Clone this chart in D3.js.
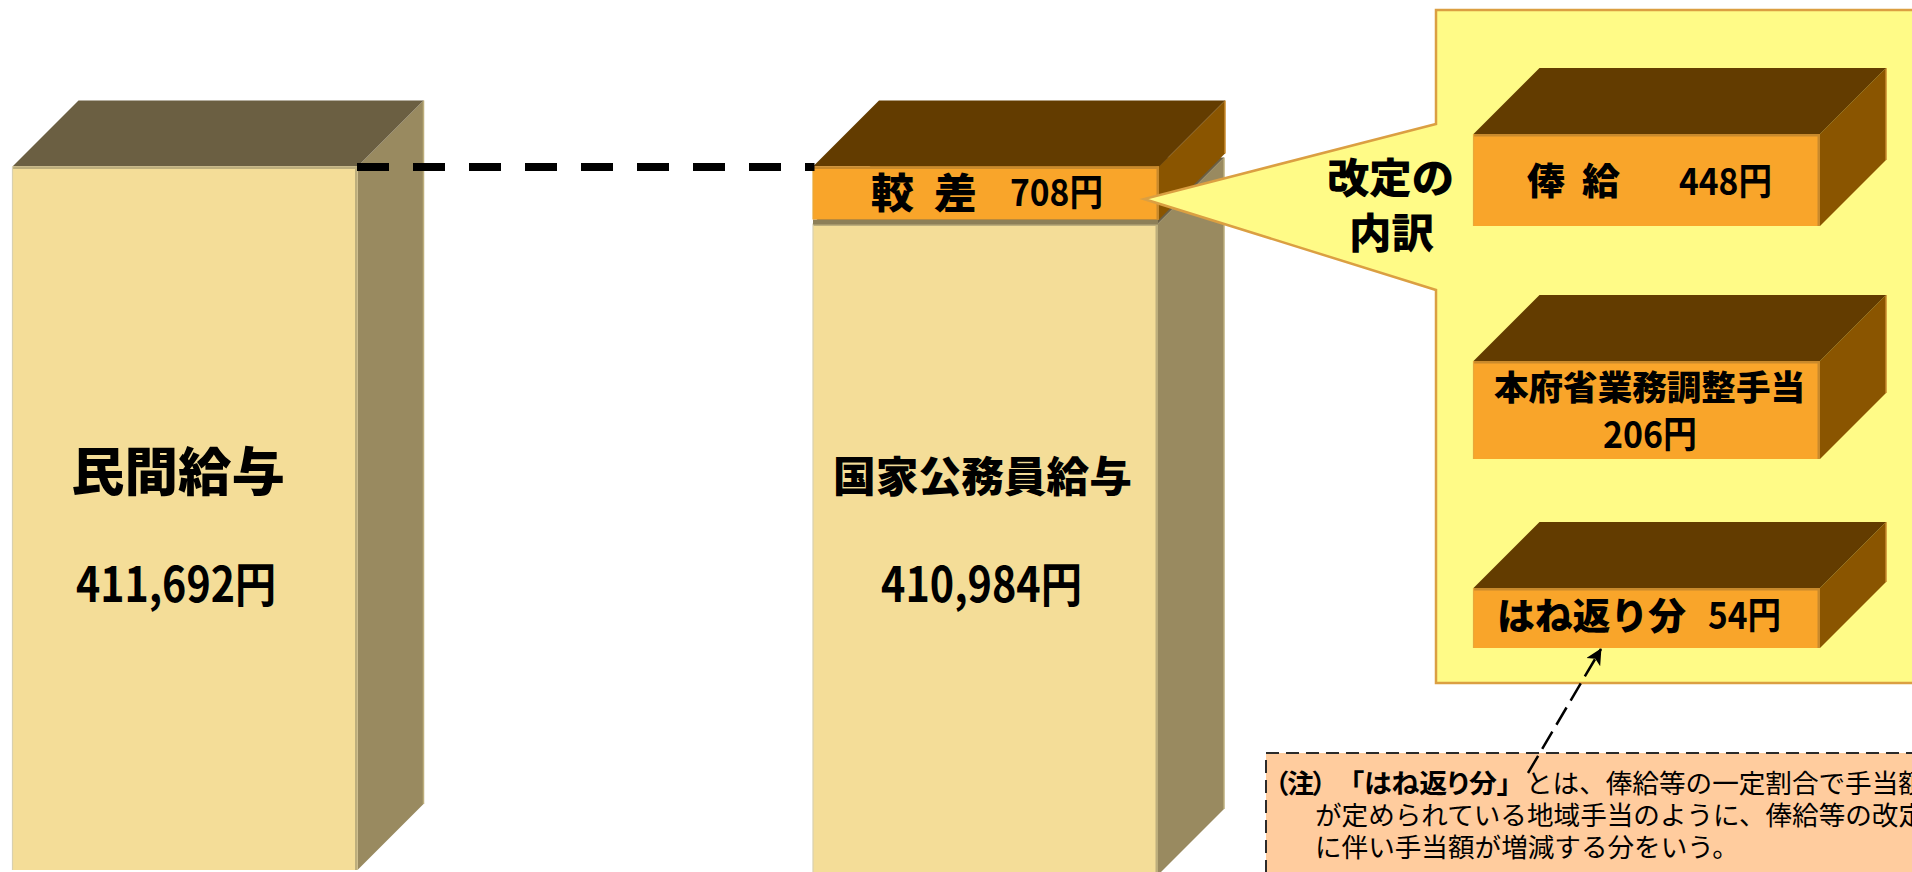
<!DOCTYPE html>
<html lang="ja">
<head>
<meta charset="utf-8">
<style>
html,body{margin:0;padding:0;background:#fff;overflow:hidden;width:1912px;height:872px}
svg{display:block}
text{font-family:"Noto Sans CJK JP","Noto Sans",sans-serif;fill:#000}
</style>
<script src="https://cdn.jsdelivr.net/npm/d3@7"></script>
</head>
<body>
<script>
// ---- data ----
const wageCategories = ["民間給与", "国家公務員給与"];
const wageValues = [411692, 410984];
const gapLabel = "較差";
const gapValue = 708;
const breakdownCategories = ["俸給", "本府省業務調整手当", "はね返り分"];
const breakdownValues = [448, 206, 54];
const calloutLines = ["改定の", "内訳"];
const noteMark = "（注）";
const noteTerm = "「はね返り分」";
const noteLines = ["とは、俸給等の一定割合で手当額", "が定められている地域手当のように、俸給等の改定", "に伴い手当額が増減する分をいう。"];

// ---- palette ----
const tan = {front:"#F4DD98", side:"#998A60", top:"#6B5F42", edge:"#BDAE7C", left:"#D8D0B0"};
const orange = {front:"#F9A52A", side:"#8A5500", top:"#633C00", edge:"#C98A2C", left:"#E8A83A"};

const W = 1912, H = 872, DEPTH = 66;
const svg = d3.select("body").append("svg").attr("width", W).attr("height", H);
const defs = svg.append("defs");
defs.append("marker").attr("id","head").attr("viewBox","0 0 10 10").attr("refX",9.5).attr("refY",5)
  .attr("markerUnits","userSpaceOnUse").attr("markerWidth",18).attr("markerHeight",16).attr("orient","auto")
  .append("path").attr("d","M0,0L10,5L0,10L2.5,5Z").attr("fill","#000");

// scales
const fmt = d3.format(",");
const xBar = d3.scalePoint().domain(wageCategories).range([12.5, 813]);
const barWidth = 345;
const y = d3.scaleLinear().domain([410984, 411692]).range([219.5, 166.5]);
const barBottom = d3.scaleOrdinal().domain(wageCategories).range([870, 875]);
const barTopOffset = d3.scaleOrdinal().domain(wageCategories).range([0, 4]);
const boxTop = d3.scaleOrdinal().domain(breakdownCategories).range([134, 361, 588]);
const boxBottom = d3.scaleOrdinal().domain(breakdownCategories).range([226, 459, 648]);
const boxX = 1473.5, boxW = 346.5;

const poly = pts => d3.line()(pts) + "Z";
function cuboid(g, x, top, w, bottom, c) {
  g.append("path").attr("d", poly([[x+w,top],[x+w+DEPTH,top-DEPTH],[x+w+DEPTH,bottom-DEPTH],[x+w,bottom]]))
    .attr("fill", c.side);
  g.append("path").attr("d", d3.line()([[x+w+DEPTH,top-DEPTH],[x+w+DEPTH,bottom-DEPTH]]))
    .attr("fill","none").attr("stroke",c.edge).attr("stroke-width",1.5);
  g.append("path").attr("d", poly([[x,top],[x+DEPTH,top-DEPTH],[x+w+DEPTH,top-DEPTH],[x+w,top]]))
    .attr("fill", c.top);
  g.append("rect").attr("x",x).attr("y",top).attr("width",w).attr("height",bottom-top).attr("fill",c.front);
  g.append("rect").attr("x",x).attr("y",top).attr("width",w).attr("height",2.5).attr("fill",c.edge);
  g.append("rect").attr("x",x+w-2.5).attr("y",top).attr("width",2.5).attr("height",bottom-top).attr("fill",c.edge);
  g.append("path").attr("d", d3.line()([[x,bottom],[x,top]]))
    .attr("fill","none").attr("stroke",c.left).attr("stroke-width",1.2);
}
function label(txt, x0, x1, cy, size, weight) {
  return svg.append("text").attr("x",x0).attr("y",cy).attr("dy","0.36em")
    .attr("font-size",size).attr("font-weight",weight)
    .attr("textLength",x1-x0).attr("lengthAdjust","spacingAndGlyphs").text(txt);
}

// main bars
const gBars = svg.append("g");
wageCategories.forEach((name,i) => {
  const top = y(wageValues[i]) + barTopOffset(name);
  cuboid(gBars, xBar(name), top, barWidth, barBottom(name), tan);
});
// gap block stacked over the government bar
const govName = wageCategories[1];
const topGap = y(wageValues[1] + gapValue), botGap = y(wageValues[1]);
gBars.append("rect").attr("x",xBar(govName)).attr("y",botGap).attr("width",barWidth).attr("height",5).attr("fill","#8d7f58");
cuboid(gBars, xBar(govName), topGap, barWidth+1, botGap, orange);

// reference dashed line
svg.append("line").attr("x1",xBar(wageCategories[0])+barWidth-0.5).attr("x2",xBar(govName)+1.5)
  .attr("y1",y(wageValues[0])+0.5).attr("y2",y(wageValues[0])+0.5)
  .attr("stroke","#000").attr("stroke-width",8).attr("stroke-dasharray","32 24");

// breakdown panel with callout
svg.append("path")
  .attr("d", poly([[1436,10],[W+10,10],[W+10,683],[1436,683],[1436,290],[1144,199],[1436,124]]))
  .attr("fill","#FFFB87").attr("stroke","#DB9F42").attr("stroke-width",2.5).attr("stroke-linejoin","miter");

breakdownCategories.forEach(name => cuboid(svg.append("g"), boxX, boxTop(name), boxW, boxBottom(name), orange));

// note box
svg.append("rect").attr("x",1266).attr("y",753).attr("width",700).attr("height",160)
  .attr("fill","#FFCC9E").attr("stroke","#2b2b2b").attr("stroke-width",2).attr("stroke-dasharray","13 7");
const note = (txt,x,cy,weight) => svg.append("text").attr("x",x).attr("y",cy).attr("dy","0.36em")
  .attr("font-size",26.6).attr("font-weight",weight).text(txt);
note(noteMark,1275,783,700).style("font-feature-settings",'"palt"').attr("textLength",51).attr("lengthAdjust","spacing");
note(noteTerm,1350,783,700).style("font-feature-settings",'"palt"').attr("textLength",161).attr("lengthAdjust","spacingAndGlyphs");
note(noteLines[0],1526,783,400);
note(noteLines[1],1315,815,400);
note(noteLines[2],1315,847,400);

// annotation arrow
svg.append("line").attr("x1",1528).attr("y1",773).attr("x2",1601).attr("y2",649)
  .attr("stroke","#000").attr("stroke-width",2.5).attr("stroke-dasharray","20 8").attr("marker-end","url(#head)");

// labels
label(wageCategories[0],71,285,472,52,900);
label(fmt(wageValues[0])+"円",76,276,585,48,700);
label(wageCategories[1],833,1132,477,42,900);
label(fmt(wageValues[1])+"円",881,1082,585,48,700);
label(gapLabel[0],871,914,193,41,900);
label(gapLabel[1],934,977,193,41,900);
label(gapValue+"円",1010,1103,193,37,700);
label(calloutLines[0],1327,1454,178,41,900);
label(calloutLines[1],1349,1434,233,41,900);
const b = breakdownCategories;
label(b[0][0],1527,1565,182,37,900);
label(b[0][1],1582,1620,182,37,900);
label(breakdownValues[0]+"円",1679,1772,182,37,700);
label(b[1],1494,1805,388,34,900);
label(breakdownValues[1]+"円",1603,1697,435,37,700);
label(b[2],1497,1686,617,37,900);
label(breakdownValues[2]+"円",1708,1781,616,37,700);
</script>
</body>
</html>
